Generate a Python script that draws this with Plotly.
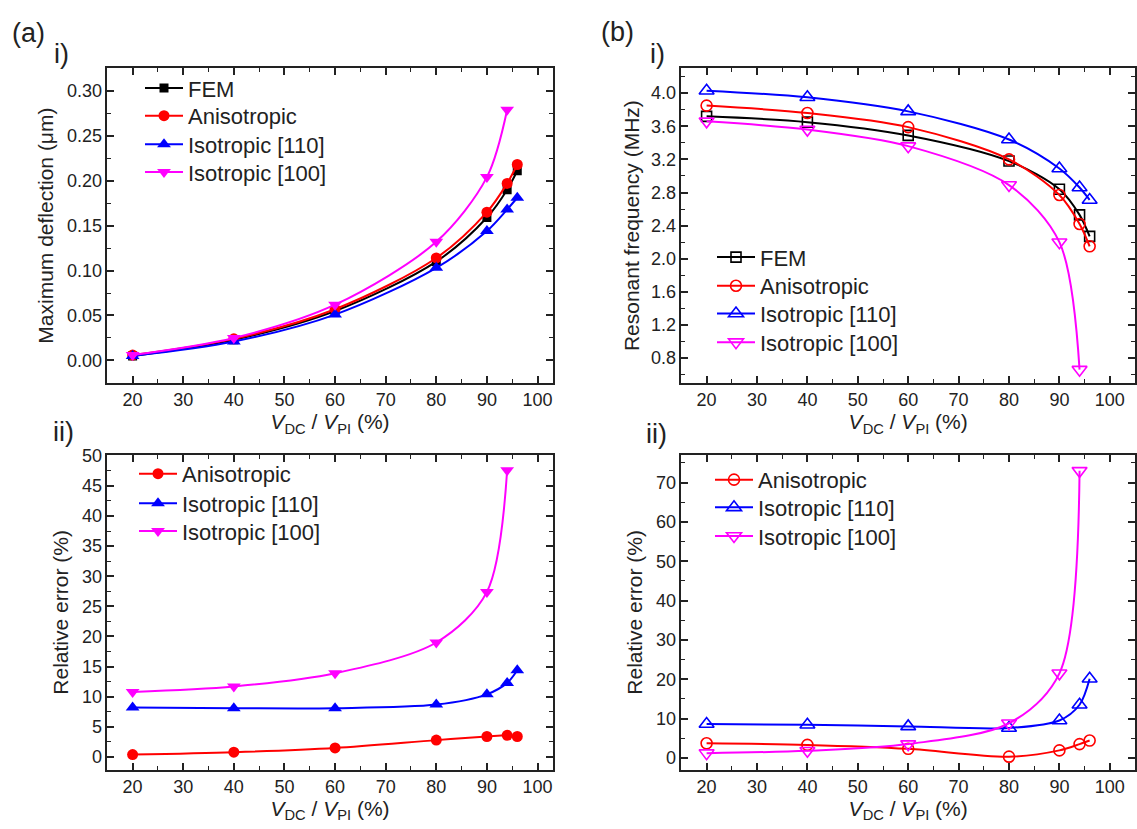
import plotly.graph_objects as go

W, H = 1137, 829

# ---------------- data ----------------
vdc = [20, 40, 60, 80, 90, 94, 96]
vdc_100 = [20, 40, 60, 80, 90, 94]

defl_fem = [0.005, 0.023, 0.055, 0.110, 0.159, 0.190, 0.211]
defl_aniso = [0.006, 0.024, 0.057, 0.114, 0.165, 0.197, 0.218]
defl_iso110 = [0.005, 0.021, 0.051, 0.103, 0.144, 0.168, 0.181]
defl_iso100 = [0.006, 0.025, 0.062, 0.132, 0.204, 0.279]

freq_fem = [3.72, 3.65, 3.49, 3.18, 2.84, 2.53, 2.27]
freq_aniso = [3.85, 3.76, 3.59, 3.20, 2.77, 2.42, 2.15]
freq_iso110 = [4.03, 3.95, 3.78, 3.44, 3.09, 2.86, 2.71]
freq_iso100 = [3.66, 3.56, 3.36, 2.89, 2.20, 0.66]

err_defl_aniso = [0.4, 0.8, 1.5, 2.8, 3.4, 3.6, 3.4]
err_defl_iso110 = [8.2, 8.1, 8.1, 8.7, 10.4, 12.3, 14.4]
err_defl_iso100 = [10.8, 11.7, 13.9, 19.0, 27.4, 47.6]

err_freq_aniso = [3.7, 3.3, 2.3, 0.3, 1.9, 3.5, 4.4]
err_freq_iso110 = [8.6, 8.4, 8.0, 7.6, 9.5, 13.5, 20.1]
err_freq_iso100 = [1.2, 1.8, 3.5, 8.8, 21.5, 73.0]

names = ["FEM", "Anisotropic", "Isotropic [110]", "Isotropic [100]"]
colors = ["#000000", "#FF0000", "#0000FF", "#FF00FF"]

FONT = "Arial, Liberation Sans, sans-serif"
INK = "#222222"

fig = go.Figure()
legend_boxes = {}
_count = [0]


def add(x, y, name, color, symbol, size, xa, ya, lx, ly, filled=True):
    _count[0] += 1
    key = "legend" if _count[0] == 1 else "legend%d" % _count[0]
    legend_boxes[key] = (lx, ly)
    fig.add_trace(go.Scatter(
        x=x, y=y, name=name, mode="lines+markers",
        line=dict(color=color, width=2, shape="spline", smoothing=0.9),
        marker=dict(symbol=symbol if filled else symbol + "-open", size=size,
                    color=color, line=dict(color=color, width=1.6 if not filled else 0)),
        xaxis=xa, yaxis=ya, legend=key,
    ))


# a-i
add(vdc, defl_fem, names[0], colors[0], "square", 9, "x", "y", 140, 80)
add(vdc, defl_aniso, names[1], colors[1], "circle", 11, "x", "y", 140, 108)
add(vdc, defl_iso110, names[2], colors[2], "triangle-up", 12, "x", "y", 140, 137)
add(vdc_100, defl_iso100, names[3], colors[3], "triangle-down", 12, "x", "y", 140, 165)
# b-i
add(vdc, freq_fem, names[0], colors[0], "square", 10, "x2", "y2", 712, 251, False)
add(vdc, freq_aniso, names[1], colors[1], "circle", 11, "x2", "y2", 712, 280, False)
add(vdc, freq_iso110, names[2], colors[2], "triangle-up", 13, "x2", "y2", 712, 308, False)
add(vdc_100, freq_iso100, names[3], colors[3], "triangle-down", 13, "x2", "y2", 712, 337, False)
# a-ii
add(vdc, err_defl_aniso, names[1], colors[1], "circle", 11, "x3", "y3", 134, 470)
add(vdc, err_defl_iso110, names[2], colors[2], "triangle-up", 12, "x3", "y3", 134, 500)
add(vdc_100, err_defl_iso100, names[3], colors[3], "triangle-down", 12, "x3", "y3", 134, 528)
# b-ii
add(vdc, err_freq_aniso, names[1], colors[1], "circle", 11, "x4", "y4", 710, 476, False)
add(vdc, err_freq_iso110, names[2], colors[2], "triangle-up", 13, "x4", "y4", 710, 504, False)
add(vdc_100, err_freq_iso100, names[3], colors[3], "triangle-down", 13, "x4", "y4", 710, 533, False)

xa_dom = [107.3 / W, 552.7 / W]
xb_dom = [681.4 / W, 1135 / W]
ytop_dom = [(H - 378) / H, (H - 60) / H]
ybot_dom = [(H - 769) / H, (H - 451) / H]

XTITLE = "<i>V</i><sub>DC</sub> / <i>V</i><sub>PI</sub> (%)"


def axis(domain, rng, dtick, minor, anchor, title, fmt=None, tick0=0, standoff=4):
    d = dict(
        domain=domain, range=rng, anchor=anchor, dtick=dtick, tick0=tick0,
        showline=True, linecolor=INK, linewidth=1.5, mirror="allticks",
        ticks="inside", ticklen=7, tickwidth=1.5, tickcolor=INK,
        minor=dict(dtick=minor, tick0=tick0, ticks="inside", ticklen=4, tickwidth=1.3, tickcolor=INK),
        showgrid=False, zeroline=False,
        tickfont=dict(family=FONT, size=18, color=INK),
        title=dict(text=title, font=dict(family=FONT, size=21, color=INK), standoff=standoff),
    )
    if fmt:
        d["tickformat"] = fmt
    return d


fig.update_layout(
    width=W, height=H,
    margin=dict(l=0, r=0, t=0, b=0),
    paper_bgcolor="white", plot_bgcolor="white",
    font=dict(family=FONT, color=INK),
    xaxis=axis(xa_dom, [15, 103], 10, 5, "y", XTITLE, standoff=1),
    yaxis=axis(ytop_dom, [-0.025, 0.325], 0.05, 0.025, "x", "Maximum deflection (μm)", ".2f", standoff=8),
    xaxis2=axis(xb_dom, [15, 105], 10, 5, "y2", XTITLE, standoff=1),
    yaxis2=axis(ytop_dom, [0.5, 4.3], 0.4, 0.2, "x2", "Resonant frequency (MHz)", ".1f", standoff=6),
    xaxis3=axis(xa_dom, [15, 103], 10, 5, "y3", XTITLE, standoff=1),
    yaxis3=axis(ybot_dom, [-2.1, 50.1], 5, 2.5, "x3", "Relative error (%)", standoff=8),
    xaxis4=axis(xb_dom, [15, 105], 10, 5, "y4", XTITLE, standoff=1),
    yaxis4=axis(ybot_dom, [-3, 77], 10, 5, "x4", "Relative error (%)", standoff=8),
    showlegend=True,
)

leg_common = dict(xanchor="left", yanchor="middle", bgcolor="rgba(0,0,0,0)", borderwidth=0,
                  font=dict(family=FONT, size=22, color=INK), tracegroupgap=0, itemwidth=38)
fig.update_layout({k: dict(x=lx / W, y=1 - ly / H, **leg_common) for k, (lx, ly) in legend_boxes.items()})

labels = [("(a)", 28, 24), ("i)", 61, 45), ("(b)", 617, 23), ("i)", 657, 45),
          ("ii)", 63, 428), ("ii)", 656, 430)]
for txt, px, py in labels:
    fig.add_annotation(text=txt, x=px / W, y=1 - py / H, xref="paper", yref="paper",
                       xanchor="center", yanchor="middle", showarrow=False,
                       font=dict(family=FONT, size=27, color=INK))

fig.write_html("out.html")
